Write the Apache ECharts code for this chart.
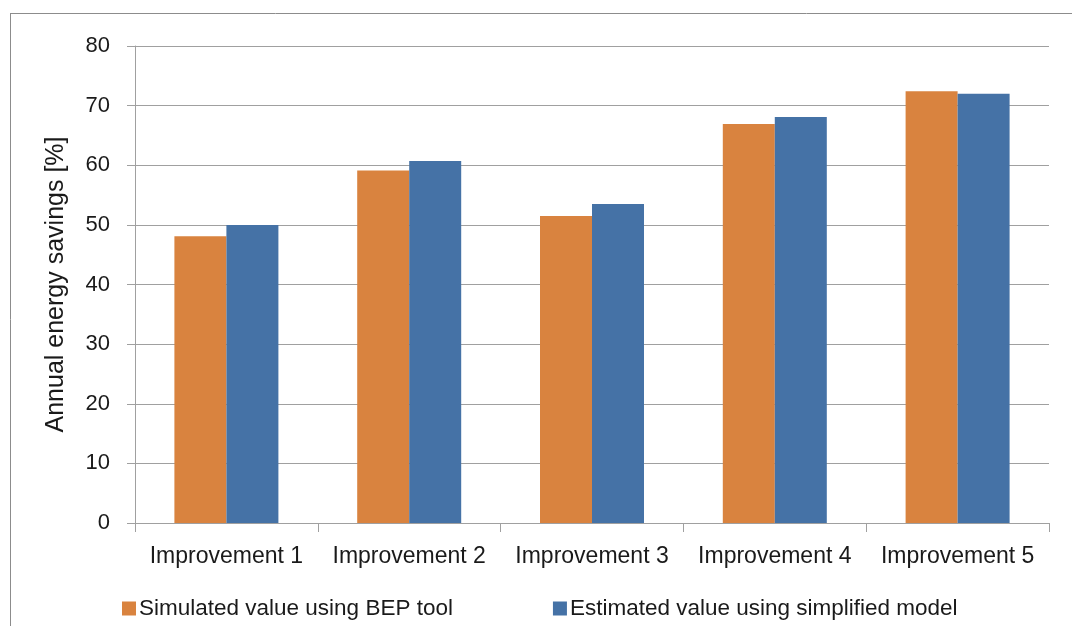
<!DOCTYPE html>
<html>
<head>
<meta charset="utf-8">
<script src="https://cdn.jsdelivr.net/npm/echarts@6/dist/echarts.min.js"></script>
<style>html,body{margin:0;padding:0;background:#fff;}#c{width:1072px;height:626px;}</style>
</head>
<body>
<div id="c"></div>
<script>
const categories = ['Improvement 1', 'Improvement 2', 'Improvement 3', 'Improvement 4', 'Improvement 5'];
const simulatedBEP = [48.1, 59.1, 51.5, 66.9, 72.4];
const estimatedSimplified = [50.0, 60.7, 53.5, 68.1, 72.0];
const seriesNames = ['Simulated value using BEP tool', 'Estimated value using simplified model'];
const yAxisTitle = 'Annual energy savings [%]';

const font = 'Liberation Sans, Arial, sans-serif';
const chart = echarts.init(document.getElementById('c'), null, {renderer: 'canvas'});
chart.setOption({
  animation: false,
  backgroundColor: '#ffffff',
  textStyle: {fontFamily: font},
  graphic: [
    {type: 'line', shape: {x1: 10, y1: 13.5, x2: 1072, y2: 13.5}, style: {stroke: '#8c8c8c', lineWidth: 1}},
    {type: 'line', shape: {x1: 10.5, y1: 13, x2: 10.5, y2: 626}, style: {stroke: '#8c8c8c', lineWidth: 1}}
  ],
  grid: {left: 135, right: 23, top: 46, bottom: 103, containLabel: false},
  legend: {
    left: 117, top: 592,
    itemWidth: 14, itemHeight: 14, itemGap: 100,
    icon: 'rect',
    textStyle: {fontSize: 22.5, color: '#1a1a1a', fontFamily: font, padding: [0, 0, 0, -2]},
    data: seriesNames
  },
  xAxis: {
    type: 'category',
    data: categories,
    axisLine: {show: true, lineStyle: {color: '#a0a0a0', width: 1}},
    axisTick: {show: true, interval: 0, length: 9, lineStyle: {color: '#a0a0a0'}},
    axisLabel: {interval: 0, fontSize: 23, color: '#1a1a1a', margin: 22, fontFamily: font}
  },
  yAxis: {
    type: 'value',
    min: 0, max: 80, interval: 10,
    name: yAxisTitle,
    nameLocation: 'middle',
    nameGap: 66,
    nameRotate: 90,
    nameTextStyle: {fontSize: 25, color: '#1a1a1a', fontFamily: font},
    axisLine: {show: true, lineStyle: {color: '#a0a0a0', width: 1}},
    axisTick: {show: true, length: 8, lineStyle: {color: '#a0a0a0'}},
    axisLabel: {fontSize: 22, color: '#1a1a1a', margin: 25, fontFamily: font},
    splitLine: {show: true, lineStyle: {color: '#a0a0a0', width: 1}}
  },
  series: [
    {name: seriesNames[0], type: 'bar', data: simulatedBEP, barWidth: 52, barGap: '0%',
     itemStyle: {color: '#d9833f'}},
    {name: seriesNames[1], type: 'bar', data: estimatedSimplified, barWidth: 52, barGap: '0%',
     itemStyle: {color: '#4572a6'}}
  ]
});
</script>
</body>
</html>
